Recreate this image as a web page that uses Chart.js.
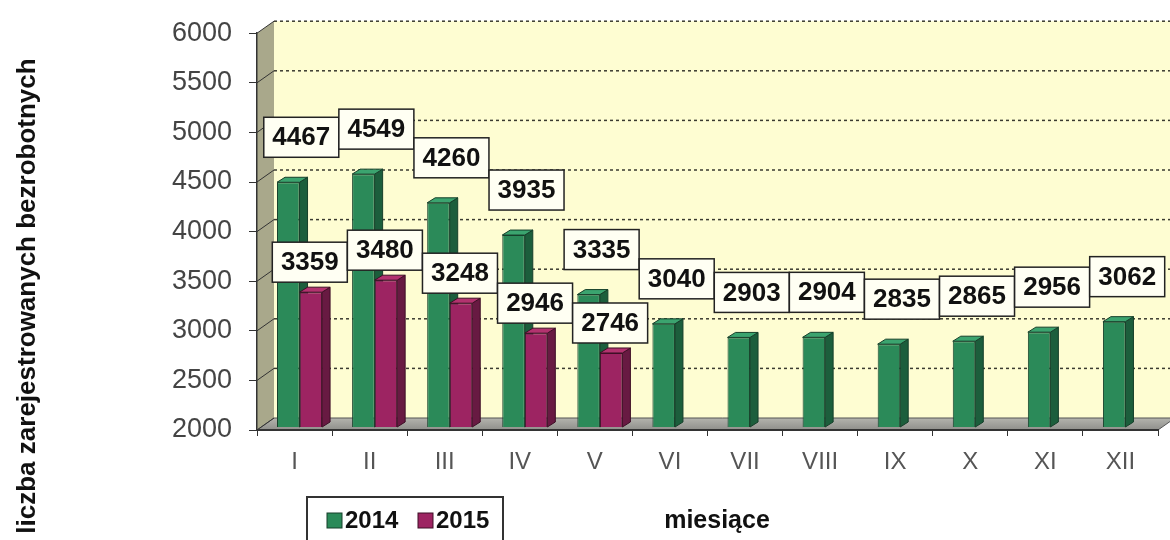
<!DOCTYPE html>
<html>
<head>
<meta charset="utf-8">
<script src="https://cdn.jsdelivr.net/npm/chart.js@4.4.0/dist/chart.umd.min.js"></script>
<style>
html,body{margin:0;padding:0;background:#fff;}
#wrap{width:1170px;height:540px;position:relative;}
</style>
</head>
<body>
<div id="wrap"><canvas id="c" width="1170" height="540"></canvas></div>
<script>
// ---- data ----
const months = ['I','II','III','IV','V','VI','VII','VIII','IX','X','XI','XII'];
const values2014 = [4467,4549,4260,3935,3335,3040,2903,2904,2835,2865,2956,3062];
const values2015 = [3359,3480,3248,2946,2746,null,null,null,null,null,null,null];
const seriesNames = ['2014','2015'];
const yMin = 2000, yMax = 6000, yStep = 500;
const yAxisTitle = 'liczba zarejestrowanych bezrobotnych';
const xAxisTitle = 'miesiące';

// ---- style ----
const FONT = "'Liberation Sans', Arial, Helvetica, sans-serif";
const DX = 17, DY = 12;      // 3D wall depth
const BD = 8, BDY = 5;       // 3D bar depth
const BAR_SHIFT_X = 5, BAR_SHIFT_Y = -3;
const labelOffsets = [{dx:18, dy:-48},{dx:4, dy:-33}];

const walls = {
  id:'walls',
  beforeDraw(chart){
    const {ctx, chartArea:a, scales:{y}} = chart;
    ctx.save();
    // back wall
    ctx.fillStyle = '#fefdd2';
    ctx.fillRect(a.left+DX, a.top-DY, a.right-a.left+DX, a.bottom-a.top);
    // left wall
    ctx.beginPath();
    ctx.moveTo(a.left, a.top); ctx.lineTo(a.left+DX, a.top-DY);
    ctx.lineTo(a.left+DX, a.bottom-DY); ctx.lineTo(a.left, a.bottom); ctx.closePath();
    ctx.fillStyle = '#a9a88b'; ctx.fill();
    // floor
    ctx.beginPath();
    ctx.moveTo(a.left, a.bottom); ctx.lineTo(a.left+DX, a.bottom-DY);
    ctx.lineTo(a.right+DX, a.bottom-DY); ctx.lineTo(a.right, a.bottom); ctx.closePath();
    const g = ctx.createLinearGradient(0, a.bottom-DY, 0, a.bottom);
    g.addColorStop(0,'#b4b4ae'); g.addColorStop(1,'#8f8f8b');
    ctx.fillStyle = g; ctx.fill();
    ctx.strokeStyle = '#555'; ctx.lineWidth = 1; ctx.stroke();
    // grid lines
    y.ticks.forEach(t => {
      const py = y.getPixelForValue(t.value);
      ctx.setLineDash([]);
      ctx.strokeStyle = '#333'; ctx.lineWidth = 1;
      ctx.beginPath(); ctx.moveTo(a.left, py); ctx.lineTo(a.left+DX, py-DY); ctx.stroke();
      if (t.value > yMin) {
        ctx.setLineDash([3,3]);
        ctx.strokeStyle = '#3a3a30'; ctx.lineWidth = 1.5;
        ctx.beginPath(); ctx.moveTo(a.left+DX, py-DY); ctx.lineTo(a.right+DX+20, py-DY); ctx.stroke();
      }
    });
    ctx.restore();
  },
  beforeDatasetsDraw(chart){
    const ctx = chart.ctx;
    const a = chart.chartArea;
    ctx.save();
    ctx.translate(BAR_SHIFT_X, BAR_SHIFT_Y);
    chart.data.datasets.forEach((ds, di) => {
      const meta = chart.getDatasetMeta(di);
      meta.data.forEach((bar, i) => {
        if (ds.data[i] == null) return;
        const p = bar.getProps(['x','y','base','width'], true);
        const base = Math.min(p.base, a.bottom);
        const l = p.x - p.width/2, r = p.x + p.width/2;
        ctx.lineWidth = 1; ctx.strokeStyle = ds.borderColor;
        ctx.beginPath();
        ctx.moveTo(r, p.y); ctx.lineTo(r+BD, p.y-BDY); ctx.lineTo(r+BD, base-BDY); ctx.lineTo(r, base); ctx.closePath();
        ctx.fillStyle = ds.sideColor; ctx.fill(); ctx.stroke();
        ctx.beginPath();
        ctx.moveTo(l, p.y); ctx.lineTo(l+BD, p.y-BDY); ctx.lineTo(r+BD, p.y-BDY); ctx.lineTo(r, p.y); ctx.closePath();
        ctx.fillStyle = ds.topColor; ctx.fill(); ctx.stroke();
      });
    });
  },
  afterDatasetsDraw(chart){
    const ctx = chart.ctx;
    ctx.restore();
    ctx.save();
    chart.data.datasets.forEach((ds, di) => {
      const meta = chart.getDatasetMeta(di);
      const off = labelOffsets[di];
      meta.data.forEach((bar, i) => {
        const v = ds.data[i];
        if (v == null) return;
        const cx = bar.x + off.dx, cy = bar.y + off.dy;
        const w = 75, h = 40;
        ctx.fillStyle = '#fffff3';
        ctx.fillRect(cx-w/2, cy-h/2, w, h);
        ctx.strokeStyle = '#222'; ctx.lineWidth = 1.5;
        ctx.strokeRect(cx-w/2, cy-h/2, w, h);
        ctx.fillStyle = '#111';
        ctx.font = 'bold 26px ' + FONT;
        ctx.textAlign = 'center'; ctx.textBaseline = 'middle';
        ctx.fillText(String(v), cx, cy+1);
      });
    });
    ctx.restore();
  },
  afterDraw(chart){
    const ctx = chart.ctx;
    ctx.save();
    // y axis title
    ctx.translate(28, 296);
    ctx.rotate(-Math.PI/2);
    ctx.font = 'bold 26px ' + FONT;
    ctx.fillStyle = '#111';
    ctx.textAlign = 'center'; ctx.textBaseline = 'middle';
    ctx.fillText(yAxisTitle, 0, 0);
    ctx.restore();
    ctx.save();
    // x axis title
    ctx.font = 'bold 25px ' + FONT;
    ctx.fillStyle = '#111';
    ctx.textAlign = 'center'; ctx.textBaseline = 'middle';
    ctx.fillText(xAxisTitle, 717, 521);
    // legend
    ctx.fillStyle = '#fff';
    ctx.fillRect(307, 497, 196, 60);
    ctx.strokeStyle = '#333'; ctx.lineWidth = 2;
    ctx.strokeRect(307, 497, 196, 60);
    const items = [{x:327},{x:418}];
    chart.data.datasets.forEach((ds, di) => {
      const ix = items[di].x;
      ctx.fillStyle = ds.backgroundColor;
      ctx.fillRect(ix, 513, 15, 15);
      ctx.strokeStyle = ds.borderColor; ctx.lineWidth = 1;
      ctx.strokeRect(ix, 513, 15, 15);
      ctx.fillStyle = '#111';
      ctx.font = 'bold 24px ' + FONT;
      ctx.textAlign = 'left'; ctx.textBaseline = 'middle';
      ctx.fillText(ds.label, ix+18, 521);
    });
    ctx.restore();
  }
};

new Chart(document.getElementById('c'), {
  type:'bar',
  data:{
    labels: months,
    datasets:[
      {label: seriesNames[0], data: values2014, backgroundColor:'#2b8a59', borderColor:'#163f2a', borderWidth:1,
       sideColor:'#1c5e3c', topColor:'#3ba46f'},
      {label: seriesNames[1], data: values2015, backgroundColor:'#9d2462', borderColor:'#3e0f26', borderWidth:1,
       sideColor:'#681a42', topColor:'#b3336f'}
    ]
  },
  options:{
    responsive:false,
    animation:false,
    devicePixelRatio:1,
    layout:{padding:{top:32, right:12, left:0, bottom:0}},
    datasets:{bar:{categoryPercentage:0.6, barPercentage:1.0}},
    plugins:{legend:{display:false}, tooltip:{enabled:false}},
    scales:{
      x:{
        afterFit(scale){ scale.height = 110; },
        grid:{drawOnChartArea:false, drawTicks:true, tickLength:6, color:'#333', offset:true},
        border:{display:true, color:'#333', width:2},
        ticks:{font:{family:FONT, size:24}, color:'#555', padding:12}
      },
      y:{
        min:yMin, max:yMax,
        afterFit(scale){ scale.width = 257; },
        grid:{drawOnChartArea:false, drawTicks:true, tickLength:8, color:'#333'},
        border:{display:true, color:'#333', width:1.5},
        ticks:{stepSize:yStep, font:{family:FONT, size:27}, color:'#444', padding:17,
               callback:(v) => String(v)}
      }
    }
  },
  plugins:[walls]
});
</script>
</body>
</html>
